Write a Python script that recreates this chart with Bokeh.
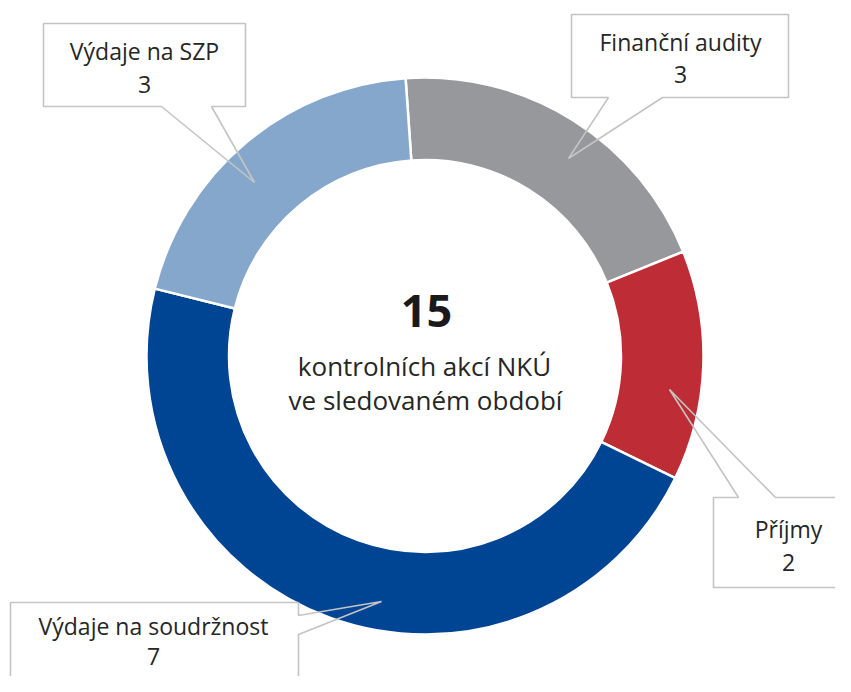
import math
from bokeh.plotting import figure
from bokeh.models import Range1d
from bokeh.embed import file_html
from bokeh.resources import INLINE
from bokeh.core.properties import value

# ---- data ----
categories = ["Finanční audity", "Příjmy", "Výdaje na soudržnost", "Výdaje na SZP"]
counts = [3, 2, 7, 3]
colors = ["#97989C", "#BE2D36", "#004494", "#86A7CC"]
center_lines = ["kontrolních akcí NKÚ", "ve sledovaném období"]

# ---- layout (reference pixel coords, y down) ----
W, H = 835, 676
CX, CY = 424.5, 355.5
R_OUT, R_IN = 278.5, 196.0
START_DEG = -4.0  # clockwise from 12 o'clock
FONT = "Open Sans"
TXT = "#262626"
EDGE = "#C4C4C4"
DESC = 0.27  # baseline correction (fraction of font size)

def Y(y):
    return H - y

def YB(y, fs):
    # wanted alphabetic baseline at y for font size fs
    return H - (y - DESC * fs)

p = figure(width=W, height=H, x_range=Range1d(0, W), y_range=Range1d(0, H),
           output_backend="svg", toolbar_location=None,
           x_axis_type=None, y_axis_type=None, min_border=0)
p.grid.visible = False
p.outline_line_color = None
p.background_fill_color = "white"
p.border_fill_color = "white"

total = sum(counts)
starts, ends = [], []
cum = START_DEG
for v in counts:
    a0 = cum
    a1 = cum + 360.0 * v / total
    starts.append(math.radians(90 - a0))
    ends.append(math.radians(90 - a1))
    cum = a1

p.annular_wedge(x=[CX] * len(counts), y=[Y(CY)] * len(counts),
                inner_radius=R_IN, outer_radius=R_OUT,
                start_angle=starts, end_angle=ends, direction="clock",
                fill_color=colors, line_color="white", line_width=2.5)

# ---- callouts ----
LFS = 23
callouts = [
    dict(box=(43, 23, 245, 106), side="bottom", base=(161, 211), tip=(254, 182), tx=144, b=(57, 90), i=3),
    dict(box=(571, 14, 788, 97), side="bottom", base=(608, 662), tip=(568, 158), tx=680, b=(48, 80), i=0),
    dict(box=(713, 497, 863, 587), side="top", base=(738, 775), tip=(669, 389), tx=788, b=(535, 568), i=1),
    dict(box=(10, 602, 298, 720), side="right", base=(615, 634), tip=(381, 601), tx=153, b=(632, 662), i=2),
]

for c in callouts:
    L, T, R, B = c["box"]
    b1, b2 = c["base"]
    tx_, ty_ = c["tip"]
    if c["side"] == "bottom":
        pts = [(L, T), (R, T), (R, B), (b2, B), (tx_, ty_), (b1, B), (L, B)]
    elif c["side"] == "top":
        pts = [(L, T), (b1, T), (tx_, ty_), (b2, T), (R, T), (R, B), (L, B)]
    else:
        pts = [(L, T), (R, T), (R, b1), (tx_, ty_), (R, b2), (R, B), (L, B)]
    p.patch(x=[q[0] for q in pts], y=[Y(q[1]) for q in pts],
            fill_color=None, line_color=EDGE, line_width=1.6)
    i = c["i"]
    p.text(x=[c["tx"], c["tx"]], y=[YB(c["b"][0], LFS), YB(c["b"][1], LFS)],
           text=[categories[i], str(counts[i])],
           text_align="center", text_baseline="alphabetic",
           text_font=value(FONT), text_font_size=f"{LFS}px", text_color=TXT)

# ---- centre ----
p.text(x=[426], y=[YB(323, 45)], text=[str(total)], text_align="center", text_baseline="alphabetic",
       text_font=value(FONT), text_font_size="45px", text_font_style="bold", text_color="#1A1A1A")
p.text(x=[424, 425], y=[YB(373, 26), YB(407, 26)], text=center_lines, text_align="center",
       text_baseline="alphabetic", text_font=value(FONT), text_font_size="26px", text_color=TXT)

open("out.html", "w").write(file_html(p, INLINE))
